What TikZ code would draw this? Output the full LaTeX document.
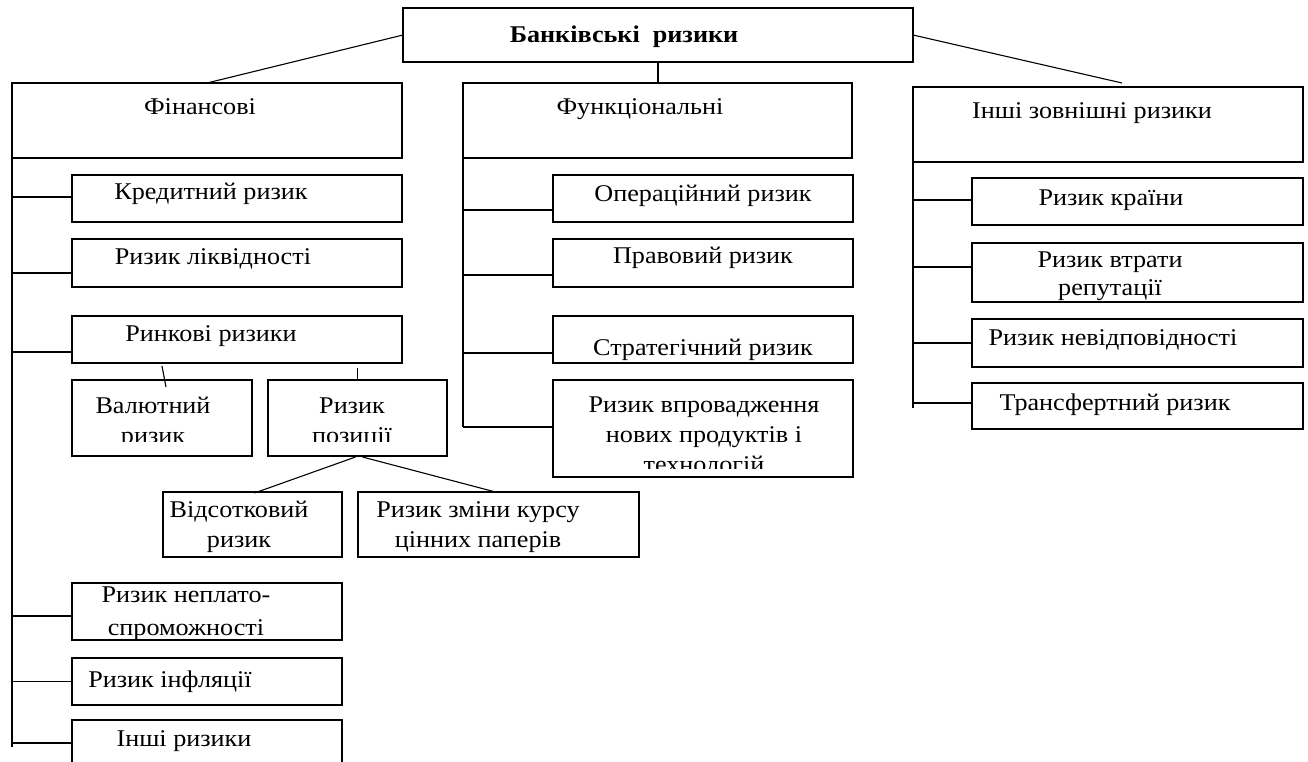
\documentclass[tikz,border=0pt]{standalone}
\usepackage{fontspec}
\setmainfont{Liberation Serif}[FakeStretch=1.09]
\usetikzlibrary{calc}
\newcommand\mybox[5]{\node[box,minimum width={#4-#2},minimum height={#5-#3}] (#1) at ({(#2+#4)/2},{(#3+#5)/2}) {};}
\newcommand\boxtext[9][]{\begin{scope}\clip (#3,#4) rectangle (#5,#6); \node[txt,#1] (#2) at (#7,#8) {#9};\end{scope}}
\newcommand\branch[3]{\coordinate (#1-b) at ($(#1.west)+(0,#2)$); \draw[ln] (#1-b) -- (#1-b -| #3);}
\begin{document}
\begin{tikzpicture}[x=1pt,y=-1pt,
  box/.style={draw=black,line width=1.1pt,inner sep=0pt,outer sep=0pt},
  ln/.style={draw=black,line width=1.1pt},
  txt/.style={inner sep=0pt,outer sep=0pt,align=center,anchor=base,font=\fontsize{24}{32}\selectfont},
]
\useasboundingbox (0,0) rectangle (1308,762);
% boxes
\mybox{top}{403}{8}{913}{62}
\mybox{fin}{12}{83}{402}{158}
\mybox{fun}{463}{83}{852}{158}
\mybox{oth}{913}{87}{1303}{162}
\mybox{kred}{72}{175}{402}{222}
\mybox{likv}{72}{239}{402}{287}
\mybox{rynk}{72}{316}{402}{363}
\mybox{val}{72}{380}{252}{456}
\mybox{poz}{268}{380}{447}{456}
\mybox{vids}{163}{492}{342}{557}
\mybox{kurs}{358}{492}{639}{557}
\mybox{nepl}{72}{583}{342}{640}
\mybox{infl}{72}{658}{342}{705}
\mybox{inshi}{72}{720}{342}{800}
\mybox{oper}{553}{175}{853}{222}
\mybox{prav}{553}{239}{853}{287}
\mybox{strat}{553}{316}{853}{363}
\mybox{vpro}{553}{380}{853}{477}
\mybox{kraina}{972}{178}{1303}{225}
\mybox{vtrat}{972}{243}{1303}{302}
\mybox{nevid}{972}{319}{1303}{367}
\mybox{trans}{972}{383}{1303}{429}
% texts (position = centre x, baseline of last line)
\boxtext[font={\fontsize{24}{32}\selectfont\bfseries}]{t-top}{403}{8}{913}{62}{624}{43}{Банківські\ \ ризики}
\boxtext{t-fin}{12}{83}{402}{158}{200}{115}{Фінансові}
\boxtext{t-fun}{463}{83}{852}{158}{640}{115}{Функціональні}
\boxtext{t-oth}{913}{87}{1303}{162}{1092}{119}{Інші зовнішні ризики}
\boxtext{t-kred}{72}{175}{402}{222}{211}{200}{Кредитний ризик}
\boxtext{t-likv}{72}{239}{402}{287}{213}{264}{Ризик ліквідності}
\boxtext{t-rynk}{72}{316}{402}{363}{211}{341}{Ринкові ризики}
\boxtext[font={\fontsize{24}{30}\selectfont}]{t-val}{72}{380}{252}{441}{153}{443}{Валютний\\ризик}
\boxtext[font={\fontsize{24}{30}\selectfont}]{t-poz}{268}{380}{447}{441}{352}{443}{Ризик\\позиції}
\boxtext[font={\fontsize{24}{30}\selectfont}]{t-vids}{163}{492}{342}{557}{239}{547}{Відсотковий\\ризик}
\boxtext[font={\fontsize{24}{30}\selectfont}]{t-kurs}{358}{492}{639}{557}{478}{547}{Ризик зміни курсу\\цінних паперів}
\boxtext[font={\fontsize{24}{33}\selectfont}]{t-nepl}{72}{583}{342}{640}{186}{635}{Ризик неплато-\\спроможності}
\boxtext{t-infl}{72}{658}{342}{705}{170}{687}{Ризик інфляції}
\boxtext{t-inshi}{72}{720}{342}{800}{184}{746}{Інші ризики}
\boxtext{t-oper}{553}{175}{853}{222}{703}{201}{Операційний ризик}
\boxtext{t-prav}{553}{239}{853}{287}{703}{263}{Правовий ризик}
\boxtext{t-strat}{553}{316}{853}{363}{703}{355}{Стратегічний ризик}
\boxtext[font={\fontsize{24}{30}\selectfont}]{t-vpro}{553}{380}{853}{468}{704}{472}{Ризик впровадження\\нових продуктів і\\технологій}
\boxtext{t-kraina}{972}{178}{1303}{225}{1111}{205}{Ризик країни}
\boxtext[font={\fontsize{24}{28}\selectfont}]{t-vtrat}{972}{243}{1303}{302}{1110}{295}{Ризик втрати\\репутації}
\boxtext{t-nevid}{972}{319}{1303}{367}{1113}{345}{Ризик невідповідності}
\boxtext{t-trans}{972}{383}{1303}{429}{1115}{410}{Трансфертний ризик}
% trunks
\coordinate (ltrunk) at (12,747);
\coordinate (mtrunk) at (463,427);
\coordinate (rtrunk) at (913,408);
\draw[ln] (fin.south west) -- (ltrunk);
\draw[ln] (fun.south west) -- (mtrunk);
\draw[ln] (oth.south west) -- (rtrunk);
% branches
\branch{kred}{-1.5}{ltrunk}
\branch{likv}{10}{ltrunk}
\branch{rynk}{12.5}{ltrunk}
\branch{nepl}{4.5}{ltrunk}
\branch{infl}{0}{ltrunk}
\branch{inshi}{-17}{ltrunk}
\branch{oper}{11.5}{mtrunk}
\branch{prav}{12}{mtrunk}
\branch{strat}{13.5}{mtrunk}
\branch{vpro}{-1.5}{mtrunk}
\branch{kraina}{-1.5}{rtrunk}
\branch{vtrat}{-5.5}{rtrunk}
\branch{nevid}{0}{rtrunk}
\branch{trans}{-3}{rtrunk}
% top connectors
\draw[ln] (top.west) -- ([xshift=195pt]fin.north west);
\draw[ln] (top.south) -- (top.south |- fun.north);
\draw[ln] (top.east) -- ([xshift=209pt,yshift=4pt]oth.north west);
% sub connectors
\draw[ln] ($(rynk.south)+(-75,3)$) -- ($(val.north)+(4,7)$);
\draw[ln] ($(poz.north |- rynk.south)+(0,5)$) -- (poz.north);
\draw[ln] ($(poz.south)+(-2,1)$) -- ($(vids.north)+(2,1)$);
\draw[ln] ($(poz.south)+(5,1)$) -- ($(kurs.north)+(-3,0)$);
\end{tikzpicture}
\end{document}
